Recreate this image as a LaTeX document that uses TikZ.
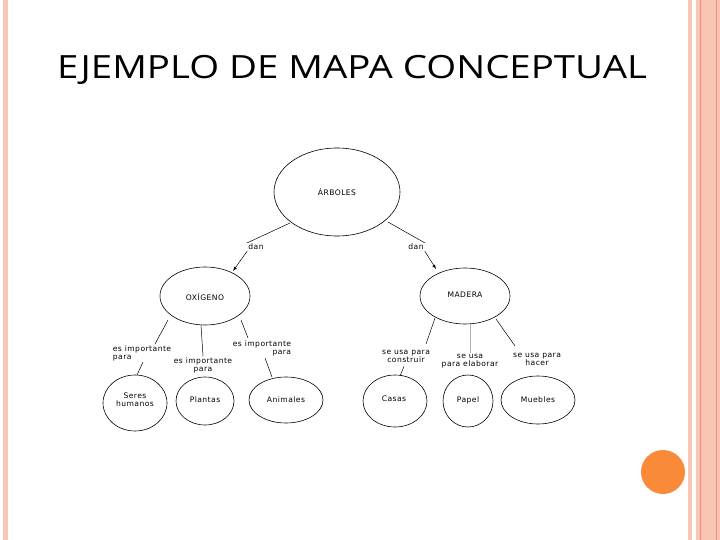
\documentclass[tikz,border=0pt]{standalone}
\usepackage{fontspec}
\setmainfont[LetterSpace=6]{DejaVu Sans}
\newfontfamily\titlefont{Open Sans}
\definecolor{stripe}{HTML}{F8C6B2}
\definecolor{dot}{HTML}{F98A3A}
\begin{document}
\begin{tikzpicture}[x=1pt,y=-1pt,
  concept/.style={draw,line width=0.6pt},
  lbl/.style={font=\fontsize{7.6}{8}\selectfont,inner sep=1pt,align=center},
  con/.style={draw,line width=0.5pt}]
\useasboundingbox (0,0) rectangle (720,540);
\fill[white] (0,0) rectangle (720,540);
\fill[stripe] (3,0) rectangle (8,540);
\fill[stripe] (688,0) rectangle (692,540);
\fill[stripe] (696,0) rectangle (720,540);
\draw[stripe!70!red,line width=0.6pt] (700,0) -- (700,540) (716,0)--(716,540);
\fill[dot] (663,472) circle (22);
\node[font=\titlefont\fontsize{32}{34}\selectfont,xscale=1.2] (title) at (352,70) {EJEMPLO DE MAPA CONCEPTUAL};
\path[concept] (337,192) ellipse (63 and 44);
\node[lbl] (arb) at (337,192) {ÁRBOLES};
\path[concept] (205,296) ellipse (45 and 29);
\node[lbl] (oxi) at (205,297) {OXÍGENO};
\path[concept] (465,296) ellipse (45 and 28);
\node[lbl] (mad) at (465,295) {MADERA};
\path[concept] (135,403) ellipse (32 and 28);
\node[lbl] (ser) at (135,400) {Seres\\humanos};
\path[concept] (205,401) ellipse (29 and 24);
\node[lbl] (pla) at (205,400) {Plantas};
\path[concept] (286,400) ellipse (37 and 23);
\node[lbl] (ani) at (286,400) {Animales};
\path[concept] (395,401) ellipse (32 and 26);
\node[lbl] (cas) at (394,399) {Casas};
\path[concept] (468,401) ellipse (25 and 26);
\node[lbl] (pap) at (468,400) {Papel};
\path[concept] (538,400) ellipse (37 and 24);
\node[lbl] (mue) at (538,400) {Muebles};
% labels
\node[lbl] (d1) at (256,247) {dan};
\node[lbl] (d2) at (416,247) {dan};
\node[lbl,align=left] (l1) at (142,353) {es importante\\para};
\node[lbl] (l2) at (203,365) {es importante\\para};
\node[lbl,align=right] (l3) at (262,348) {es importante\\para};
\node[lbl] (r1) at (406,356) {se usa para\\construir};
\node[lbl] (r2) at (470,361) {se usa\\para elaborar};
\node[lbl] (r3) at (537,359) {se usa para\\hacer};
% connectors
\coordinate (a1) at (290,223); \coordinate (a2) at (388,222);
\coordinate (o1) at (168,320); \coordinate (o2) at (201,325); \coordinate (o3) at (241,320);
\coordinate (m1) at (435,318); \coordinate (m2) at (470,324); \coordinate (m3) at (496,319);
\draw[con] (a1) -- (d1.north west);
\draw[con,-latex] (d1.south west) -- (233,271);
\draw[con] (a2) -- (d2.north east);
\draw[con,-latex] (d2.south east) -- (436,269);
\draw[con] (o1) -- (155,344);
\draw[con] (143,362) -- (137,375);
\draw[con] (o2) -- (l2.north);
\draw[con] (o3) -- (248,338);
\draw[con] (265,358) -- (272,377);
\draw[con] (m1) -- (426,344);
\draw[con] (r1.south) ++(-2,3) -- (400,376);
\draw[con,gray!60] (m2) -- (r2.north);
\draw[con] (m3) -- (515,346);
\end{tikzpicture}
\end{document}
